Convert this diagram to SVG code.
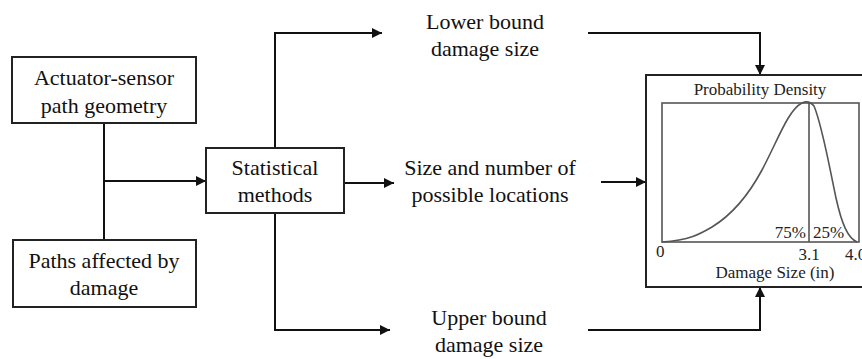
<svg xmlns="http://www.w3.org/2000/svg" width="862" height="359" viewBox="0 0 862 359">
  <defs>
    <marker id="arrow" viewBox="0 0 10 10" refX="10" refY="5" markerWidth="10" markerHeight="10" markerUnits="userSpaceOnUse" orient="auto">
      <path d="M0,0 L10,5 L0,10 z" fill="#111"/>
    </marker>
    <style>
      .box { fill: #fff; stroke: #222; stroke-width: 2; }
      .lbl { font-family: "Liberation Serif", "Times New Roman", serif; font-size: 22px; fill: #111; text-anchor: middle; }
      .plot { font-family: "Liberation Serif", "Times New Roman", serif; font-size: 17px; fill: #222; }
      .wire { fill: none; stroke: #111; stroke-width: 2; }
      .axis { fill: none; stroke: #555; stroke-width: 1.6; }
    </style>
  </defs>
  <rect width="862" height="359" fill="#fff"/>

  <!-- connectors -->
  <g id="connectors">
    <path class="wire" d="M104,123 V240"/>
    <path class="wire" d="M104,181 H206" marker-end="url(#arrow)"/>
    <path class="wire" d="M275,148 V33 H382" marker-end="url(#arrow)"/>
    <path class="wire" d="M275,213 V330 H390" marker-end="url(#arrow)"/>
    <path class="wire" d="M344,183 H394" marker-end="url(#arrow)"/>
    <path class="wire" d="M588,33 H760 V75" marker-end="url(#arrow)"/>
    <path class="wire" d="M588,330 H760 V287" marker-end="url(#arrow)"/>
    <path class="wire" d="M601,182 H646" marker-end="url(#arrow)"/>
  </g>

  <g id="path-geometry">
    <rect class="box" x="12" y="57" width="184" height="66"/>
    <text class="lbl" x="104" y="85">Actuator-sensor</text>
    <text class="lbl" x="104" y="113">path geometry</text>
  </g>

  <g id="paths-affected">
    <rect class="box" x="13" y="240" width="183" height="67"/>
    <text class="lbl" x="104" y="268">Paths affected by</text>
    <text class="lbl" x="104" y="295">damage</text>
  </g>

  <g id="statistical-methods">
    <rect class="box" x="206" y="148" width="138" height="65"/>
    <text class="lbl" x="275" y="175">Statistical</text>
    <text class="lbl" x="275" y="202">methods</text>
  </g>

  <g id="lower-bound">
    <text class="lbl" x="485" y="29">Lower bound</text>
    <text class="lbl" x="485" y="56">damage size</text>
  </g>

  <g id="size-number">
    <text class="lbl" x="490" y="175">Size and number of</text>
    <text class="lbl" x="490" y="202">possible locations</text>
  </g>

  <g id="upper-bound">
    <text class="lbl" x="489" y="325">Upper bound</text>
    <text class="lbl" x="489" y="352">damage size</text>
  </g>

  <g id="probability-density">
    <rect class="box" x="646" y="75" width="230" height="212"/>
    <text class="plot" x="760" y="95" text-anchor="middle">Probability Density</text>
    <rect class="axis" x="662" y="103" width="197" height="139"/>
    <line class="axis" x1="809" y1="103" x2="809" y2="242"/>
    <path class="axis" d="M662,242 C690,240 700,234 712,227 C730,216 748,196 762,170 C778,140 788,110 802,103 C806,101 810,101 814,106 C822,125 828,160 836,198 C842,225 848,238 857,242"/>
    <text class="plot" x="806" y="238" text-anchor="end" font-size="14">75%</text>
    <text class="plot" x="813" y="238" font-size="14">25%</text>
    <text class="plot" x="656" y="257">0</text>
    <text class="plot" x="809" y="260" text-anchor="middle">3.1</text>
    <text class="plot" x="845" y="260">4.0</text>
    <text class="plot" x="775" y="278" text-anchor="middle">Damage Size (in)</text>
  </g>
</svg>
